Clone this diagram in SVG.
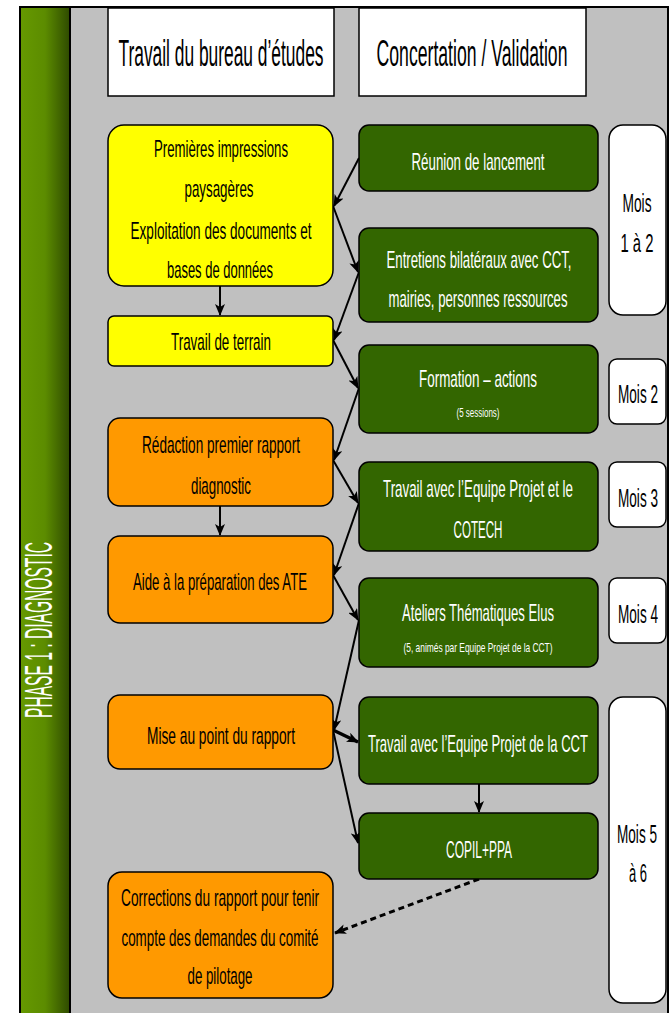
<svg xmlns="http://www.w3.org/2000/svg" width="671" height="1013" viewBox="0 0 671 1013">
<defs>
<linearGradient id="bar" x1="0" y1="0" x2="1" y2="0">
<stop offset="0" stop-color="#669900"/>
<stop offset="0.5" stop-color="#5c8c00"/>
<stop offset="1" stop-color="#2e4a00"/>
</linearGradient>
<marker id="ah" markerUnits="userSpaceOnUse" markerWidth="12" markerHeight="10" refX="11" refY="5" orient="auto">
<path d="M0,0 L12,5 L0,10 L3,5 Z" fill="#000"/>
</marker>
</defs>
<style>
.t{font-family:"Liberation Sans","Noto Sans",sans-serif;text-anchor:middle;}
.b{fill:#000;font-size:24px;}
.w{fill:#fff;font-size:24px;}
.s{fill:#fff;font-size:13px;}
.h{fill:#000;font-size:37px;}
.m{fill:#000;font-size:26px;}
.box{stroke:#000;stroke-width:1.5;}
.y{fill:#ffff00;}
.o{fill:#ff9900;}
.g{fill:#336600;}
.wh{fill:#fff;}
.c{fill:none;stroke:#000;stroke-width:2;marker-end:url(#ah);}
.thick{stroke-width:3.5;}
.dash{stroke-width:3;stroke-dasharray:6,4;}
</style>
<rect x="20" y="7" width="648" height="1010" fill="#c0c0c0" stroke="#000" stroke-width="2"/>
<rect x="20" y="7" width="50" height="1010" fill="url(#bar)" stroke="#000" stroke-width="2"/>
<text class="t" fill="#fff" font-size="38" transform="translate(52,630) rotate(-90)" textLength="176" lengthAdjust="spacingAndGlyphs">PHASE 1 : DIAGNOSTIC</text>

<g id="header-bureau">
<rect class="box wh" x="108" y="8" width="226" height="88"/>
<text class="t h" x="221" y="66" textLength="205" lengthAdjust="spacingAndGlyphs">Travail du bureau d’études</text>
</g>
<g id="header-concertation">
<rect class="box wh" x="359" y="8" width="227" height="88"/>
<text class="t h" x="472" y="66" textLength="191" lengthAdjust="spacingAndGlyphs">Concertation / Validation</text>
</g>

<g id="connectors">
<line class="c" x1="359" y1="158" x2="334" y2="206"/>
<line class="c" x1="333" y1="206" x2="358" y2="272"/>
<line class="c" x1="359" y1="272" x2="334" y2="340"/>
<line class="c" x1="333" y1="340" x2="358" y2="388"/>
<line class="c" x1="359" y1="388" x2="334" y2="460"/>
<line class="c" x1="333" y1="460" x2="358" y2="503"/>
<line class="c" x1="359" y1="503" x2="334" y2="575"/>
<line class="c" x1="333" y1="575" x2="358" y2="620"/>
<line class="c" x1="359" y1="620" x2="334" y2="730"/>
<line class="c thick" x1="333" y1="730" x2="358" y2="742"/>
<line class="c" x1="333" y1="730" x2="358" y2="843"/>
<line class="c" x1="220" y1="286" x2="220" y2="315"/>
<line class="c" x1="220" y1="506" x2="220" y2="535"/>
<line class="c" x1="479" y1="784" x2="479" y2="812"/>
<line class="c dash" x1="479" y1="879" x2="335" y2="933"/>
</g>

<g id="premieres">
<rect class="box y" x="108" y="125" width="225" height="161" rx="16"/>
<text class="t b" x="221" y="157" textLength="134" lengthAdjust="spacingAndGlyphs">Premières impressions</text>
<text class="t b" x="219" y="197" textLength="69" lengthAdjust="spacingAndGlyphs">paysagères</text>
<text class="t b" x="221" y="239" textLength="181" lengthAdjust="spacingAndGlyphs">Exploitation des documents et</text>
<text class="t b" x="220" y="278" textLength="106" lengthAdjust="spacingAndGlyphs">bases de données</text>
</g>
<g id="terrain">
<rect class="box y" x="108" y="316" width="225" height="50" rx="6"/>
<text class="t b" x="221" y="350" textLength="100" lengthAdjust="spacingAndGlyphs">Travail de terrain</text>
</g>
<g id="redaction">
<rect class="box o" x="108" y="418" width="225" height="88" rx="12"/>
<text class="t b" x="221" y="453" textLength="158" lengthAdjust="spacingAndGlyphs">Rédaction premier rapport</text>
<text class="t b" x="221" y="494" textLength="60" lengthAdjust="spacingAndGlyphs">diagnostic</text>
</g>
<g id="aide">
<rect class="box o" x="108" y="536" width="225" height="87" rx="12"/>
<text class="t b" x="220" y="590" textLength="174" lengthAdjust="spacingAndGlyphs">Aide à la préparation des ATE</text>
</g>
<g id="mise">
<rect class="box o" x="108" y="695" width="225" height="74" rx="12"/>
<text class="t b" x="221" y="744" textLength="148" lengthAdjust="spacingAndGlyphs">Mise au point du rapport</text>
</g>
<g id="corrections">
<rect class="box o" x="108" y="872" width="225" height="126" rx="14"/>
<text class="t b" x="220" y="906" textLength="198" lengthAdjust="spacingAndGlyphs">Corrections du rapport pour tenir</text>
<text class="t b" x="220" y="946" textLength="197" lengthAdjust="spacingAndGlyphs">compte des demandes du comité</text>
<text class="t b" x="220" y="984" textLength="65" lengthAdjust="spacingAndGlyphs">de pilotage</text>
</g>

<g id="reunion">
<rect class="box g" x="359" y="125" width="239" height="66" rx="10"/>
<text class="t w" x="478" y="170" textLength="133" lengthAdjust="spacingAndGlyphs">Réunion de lancement</text>
</g>
<g id="entretiens">
<rect class="box g" x="359" y="228" width="239" height="94" rx="10"/>
<text class="t w" x="479" y="268" textLength="185" lengthAdjust="spacingAndGlyphs">Entretiens bilatéraux avec CCT,</text>
<text class="t w" x="478" y="307" textLength="179" lengthAdjust="spacingAndGlyphs">mairies, personnes ressources</text>
</g>
<g id="formation">
<rect class="box g" x="359" y="345" width="239" height="88" rx="10"/>
<text class="t w" x="478" y="387" textLength="118" lengthAdjust="spacingAndGlyphs">Formation – actions</text>
<text class="t s" x="478" y="417" textLength="43" lengthAdjust="spacingAndGlyphs">(5 sessions)</text>
</g>
<g id="equipe-cotech">
<rect class="box g" x="359" y="462" width="239" height="89" rx="10"/>
<text class="t w" x="478" y="497" textLength="190" lengthAdjust="spacingAndGlyphs">Travail avec l’Equipe Projet et le</text>
<text class="t w" x="478" y="538" textLength="49" lengthAdjust="spacingAndGlyphs">COTECH</text>
</g>
<g id="ateliers">
<rect class="box g" x="359" y="578" width="239" height="89" rx="10"/>
<text class="t w" x="478" y="621" textLength="152" lengthAdjust="spacingAndGlyphs">Ateliers Thématiques Elus</text>
<text class="t s" x="478" y="652" textLength="149" lengthAdjust="spacingAndGlyphs">(5, animés par Equipe Projet de la CCT)</text>
</g>
<g id="equipe-cct">
<rect class="box g" x="359" y="697" width="239" height="87" rx="10"/>
<text class="t w" x="478" y="752" textLength="220" lengthAdjust="spacingAndGlyphs">Travail avec l’Equipe Projet de la CCT</text>
</g>
<g id="copil">
<rect class="box g" x="359" y="813" width="239" height="66" rx="10"/>
<text class="t w" x="479" y="858" textLength="66" lengthAdjust="spacingAndGlyphs">COPIL+PPA</text>
</g>

<g id="mois-1-2">
<rect class="box wh" x="609" y="125" width="57" height="190" rx="14"/>
<text class="t m" x="637" y="212" textLength="29" lengthAdjust="spacingAndGlyphs">Mois</text>
<text class="t m" x="637" y="252" textLength="33" lengthAdjust="spacingAndGlyphs">1 à 2</text>
</g>
<g id="mois-2">
<rect class="box wh" x="609" y="359" width="57" height="65" rx="8"/>
<text class="t m" x="638" y="403" textLength="40" lengthAdjust="spacingAndGlyphs">Mois 2</text>
</g>
<g id="mois-3">
<rect class="box wh" x="609" y="462" width="57" height="65" rx="8"/>
<text class="t m" x="638" y="507" textLength="40" lengthAdjust="spacingAndGlyphs">Mois 3</text>
</g>
<g id="mois-4">
<rect class="box wh" x="609" y="578" width="57" height="65" rx="8"/>
<text class="t m" x="638" y="623" textLength="40" lengthAdjust="spacingAndGlyphs">Mois 4</text>
</g>
<g id="mois-5-6">
<rect class="box wh" x="609" y="697" width="57" height="306" rx="14"/>
<text class="t m" x="637" y="843" textLength="40" lengthAdjust="spacingAndGlyphs">Mois 5</text>
<text class="t m" x="638" y="882" textLength="18" lengthAdjust="spacingAndGlyphs">à 6</text>
</g>
</svg>
